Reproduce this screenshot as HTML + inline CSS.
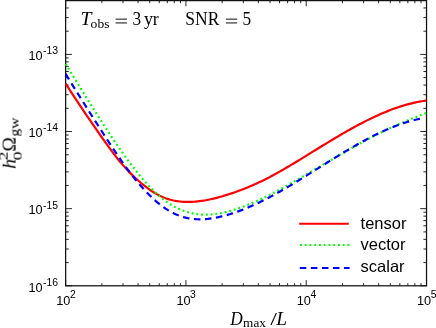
<!DOCTYPE html>
<html><head><meta charset="utf-8"><style>
html,body{margin:0;padding:0;background:#fff;}
svg{display:block;}
text{filter:url(#idf);}
text{fill:#000;}
.tl{font-family:"Liberation Sans",sans-serif;font-size:12.7px;}
.sup{font-family:"Liberation Sans",sans-serif;font-size:10.4px;}
.lg{font-family:"Liberation Sans",sans-serif;font-size:16.5px;}
.m{font-family:"Liberation Serif",serif;font-size:18.2px;}
.mi{font-family:"Liberation Serif",serif;font-size:18.2px;font-style:italic;}
.ms{font-family:"Liberation Serif",serif;font-size:13.3px;}
</style></head><body>
<svg width="436" height="328" viewBox="0 0 436 328">
<rect x="0" y="0" width="436" height="328" fill="#fff"/>
<defs><filter id="idf" x="-10%" y="-10%" width="120%" height="120%" color-interpolation-filters="sRGB"><feOffset dx="0" dy="0"/></filter><clipPath id="c"><rect x="65.05000000000001" y="0" width="362.07" height="285.78999999999996"/></clipPath></defs>
<g stroke="#000" stroke-width="0.85" fill="none">
<line x1="65.65" y1="285.79" x2="65.65" y2="280.09"/>
<line x1="65.65" y1="0.60" x2="65.65" y2="6.30"/>
<line x1="101.86" y1="285.79" x2="101.86" y2="283.19"/>
<line x1="101.86" y1="0.60" x2="101.86" y2="3.20"/>
<line x1="123.04" y1="285.79" x2="123.04" y2="283.19"/>
<line x1="123.04" y1="0.60" x2="123.04" y2="3.20"/>
<line x1="138.07" y1="285.79" x2="138.07" y2="283.19"/>
<line x1="138.07" y1="0.60" x2="138.07" y2="3.20"/>
<line x1="149.73" y1="285.79" x2="149.73" y2="283.19"/>
<line x1="149.73" y1="0.60" x2="149.73" y2="3.20"/>
<line x1="159.25" y1="285.79" x2="159.25" y2="283.19"/>
<line x1="159.25" y1="0.60" x2="159.25" y2="3.20"/>
<line x1="167.31" y1="285.79" x2="167.31" y2="283.19"/>
<line x1="167.31" y1="0.60" x2="167.31" y2="3.20"/>
<line x1="174.28" y1="285.79" x2="174.28" y2="283.19"/>
<line x1="174.28" y1="0.60" x2="174.28" y2="3.20"/>
<line x1="180.44" y1="285.79" x2="180.44" y2="283.19"/>
<line x1="180.44" y1="0.60" x2="180.44" y2="3.20"/>
<line x1="185.94" y1="285.79" x2="185.94" y2="280.09"/>
<line x1="185.94" y1="0.60" x2="185.94" y2="6.30"/>
<line x1="222.15" y1="285.79" x2="222.15" y2="283.19"/>
<line x1="222.15" y1="0.60" x2="222.15" y2="3.20"/>
<line x1="243.33" y1="285.79" x2="243.33" y2="283.19"/>
<line x1="243.33" y1="0.60" x2="243.33" y2="3.20"/>
<line x1="258.36" y1="285.79" x2="258.36" y2="283.19"/>
<line x1="258.36" y1="0.60" x2="258.36" y2="3.20"/>
<line x1="270.02" y1="285.79" x2="270.02" y2="283.19"/>
<line x1="270.02" y1="0.60" x2="270.02" y2="3.20"/>
<line x1="279.54" y1="285.79" x2="279.54" y2="283.19"/>
<line x1="279.54" y1="0.60" x2="279.54" y2="3.20"/>
<line x1="287.60" y1="285.79" x2="287.60" y2="283.19"/>
<line x1="287.60" y1="0.60" x2="287.60" y2="3.20"/>
<line x1="294.57" y1="285.79" x2="294.57" y2="283.19"/>
<line x1="294.57" y1="0.60" x2="294.57" y2="3.20"/>
<line x1="300.73" y1="285.79" x2="300.73" y2="283.19"/>
<line x1="300.73" y1="0.60" x2="300.73" y2="3.20"/>
<line x1="306.23" y1="285.79" x2="306.23" y2="280.09"/>
<line x1="306.23" y1="0.60" x2="306.23" y2="6.30"/>
<line x1="342.44" y1="285.79" x2="342.44" y2="283.19"/>
<line x1="342.44" y1="0.60" x2="342.44" y2="3.20"/>
<line x1="363.62" y1="285.79" x2="363.62" y2="283.19"/>
<line x1="363.62" y1="0.60" x2="363.62" y2="3.20"/>
<line x1="378.65" y1="285.79" x2="378.65" y2="283.19"/>
<line x1="378.65" y1="0.60" x2="378.65" y2="3.20"/>
<line x1="390.31" y1="285.79" x2="390.31" y2="283.19"/>
<line x1="390.31" y1="0.60" x2="390.31" y2="3.20"/>
<line x1="399.83" y1="285.79" x2="399.83" y2="283.19"/>
<line x1="399.83" y1="0.60" x2="399.83" y2="3.20"/>
<line x1="407.89" y1="285.79" x2="407.89" y2="283.19"/>
<line x1="407.89" y1="0.60" x2="407.89" y2="3.20"/>
<line x1="414.86" y1="285.79" x2="414.86" y2="283.19"/>
<line x1="414.86" y1="0.60" x2="414.86" y2="3.20"/>
<line x1="421.02" y1="285.79" x2="421.02" y2="283.19"/>
<line x1="421.02" y1="0.60" x2="421.02" y2="3.20"/>
<line x1="426.52" y1="285.79" x2="426.52" y2="280.09"/>
<line x1="426.52" y1="0.60" x2="426.52" y2="6.30"/>
<line x1="65.65" y1="285.79" x2="71.95" y2="285.79"/>
<line x1="426.52" y1="285.79" x2="420.22" y2="285.79"/>
<line x1="65.65" y1="262.57" x2="68.75" y2="262.57"/>
<line x1="426.52" y1="262.57" x2="423.42" y2="262.57"/>
<line x1="65.65" y1="248.99" x2="68.75" y2="248.99"/>
<line x1="426.52" y1="248.99" x2="423.42" y2="248.99"/>
<line x1="65.65" y1="239.35" x2="68.75" y2="239.35"/>
<line x1="426.52" y1="239.35" x2="423.42" y2="239.35"/>
<line x1="65.65" y1="231.88" x2="68.75" y2="231.88"/>
<line x1="426.52" y1="231.88" x2="423.42" y2="231.88"/>
<line x1="65.65" y1="225.77" x2="68.75" y2="225.77"/>
<line x1="426.52" y1="225.77" x2="423.42" y2="225.77"/>
<line x1="65.65" y1="220.61" x2="68.75" y2="220.61"/>
<line x1="426.52" y1="220.61" x2="423.42" y2="220.61"/>
<line x1="65.65" y1="216.13" x2="68.75" y2="216.13"/>
<line x1="426.52" y1="216.13" x2="423.42" y2="216.13"/>
<line x1="65.65" y1="212.19" x2="68.75" y2="212.19"/>
<line x1="426.52" y1="212.19" x2="423.42" y2="212.19"/>
<line x1="65.65" y1="208.66" x2="71.95" y2="208.66"/>
<line x1="426.52" y1="208.66" x2="420.22" y2="208.66"/>
<line x1="65.65" y1="185.44" x2="68.75" y2="185.44"/>
<line x1="426.52" y1="185.44" x2="423.42" y2="185.44"/>
<line x1="65.65" y1="171.86" x2="68.75" y2="171.86"/>
<line x1="426.52" y1="171.86" x2="423.42" y2="171.86"/>
<line x1="65.65" y1="162.22" x2="68.75" y2="162.22"/>
<line x1="426.52" y1="162.22" x2="423.42" y2="162.22"/>
<line x1="65.65" y1="154.75" x2="68.75" y2="154.75"/>
<line x1="426.52" y1="154.75" x2="423.42" y2="154.75"/>
<line x1="65.65" y1="148.64" x2="68.75" y2="148.64"/>
<line x1="426.52" y1="148.64" x2="423.42" y2="148.64"/>
<line x1="65.65" y1="143.48" x2="68.75" y2="143.48"/>
<line x1="426.52" y1="143.48" x2="423.42" y2="143.48"/>
<line x1="65.65" y1="139.00" x2="68.75" y2="139.00"/>
<line x1="426.52" y1="139.00" x2="423.42" y2="139.00"/>
<line x1="65.65" y1="135.06" x2="68.75" y2="135.06"/>
<line x1="426.52" y1="135.06" x2="423.42" y2="135.06"/>
<line x1="65.65" y1="131.53" x2="71.95" y2="131.53"/>
<line x1="426.52" y1="131.53" x2="420.22" y2="131.53"/>
<line x1="65.65" y1="108.31" x2="68.75" y2="108.31"/>
<line x1="426.52" y1="108.31" x2="423.42" y2="108.31"/>
<line x1="65.65" y1="94.73" x2="68.75" y2="94.73"/>
<line x1="426.52" y1="94.73" x2="423.42" y2="94.73"/>
<line x1="65.65" y1="85.09" x2="68.75" y2="85.09"/>
<line x1="426.52" y1="85.09" x2="423.42" y2="85.09"/>
<line x1="65.65" y1="77.62" x2="68.75" y2="77.62"/>
<line x1="426.52" y1="77.62" x2="423.42" y2="77.62"/>
<line x1="65.65" y1="71.51" x2="68.75" y2="71.51"/>
<line x1="426.52" y1="71.51" x2="423.42" y2="71.51"/>
<line x1="65.65" y1="66.35" x2="68.75" y2="66.35"/>
<line x1="426.52" y1="66.35" x2="423.42" y2="66.35"/>
<line x1="65.65" y1="61.87" x2="68.75" y2="61.87"/>
<line x1="426.52" y1="61.87" x2="423.42" y2="61.87"/>
<line x1="65.65" y1="57.93" x2="68.75" y2="57.93"/>
<line x1="426.52" y1="57.93" x2="423.42" y2="57.93"/>
<line x1="65.65" y1="54.40" x2="71.95" y2="54.40"/>
<line x1="426.52" y1="54.40" x2="420.22" y2="54.40"/>
<line x1="65.65" y1="31.18" x2="68.75" y2="31.18"/>
<line x1="426.52" y1="31.18" x2="423.42" y2="31.18"/>
<line x1="65.65" y1="17.60" x2="68.75" y2="17.60"/>
<line x1="426.52" y1="17.60" x2="423.42" y2="17.60"/>
<line x1="65.65" y1="7.96" x2="68.75" y2="7.96"/>
<line x1="426.52" y1="7.96" x2="423.42" y2="7.96"/>
</g>
<rect x="65.65" y="0.6" width="360.87" height="285.19" fill="none" stroke="#111" stroke-width="1.25"/>
<g clip-path="url(#c)" fill="none" stroke-width="2.2">
<path d="M65.6,83.47 L67.6,86.62 L69.6,89.73 L71.6,92.82 L73.6,95.88 L75.6,98.92 L77.6,101.93 L79.6,104.93 L81.6,107.91 L83.6,110.87 L85.6,113.82 L87.6,116.75 L89.6,119.67 L91.6,122.58 L93.6,125.48 L95.6,128.37 L97.6,131.25 L99.6,134.13 L101.6,137.00 L103.6,139.84 L105.6,142.67 L107.6,145.46 L109.6,148.22 L111.6,150.93 L113.6,153.59 L115.6,156.19 L117.6,158.73 L119.6,161.20 L121.6,163.59 L123.6,165.90 L125.6,168.14 L127.6,170.29 L129.6,172.38 L131.6,174.39 L133.6,176.33 L135.6,178.21 L137.6,180.02 L139.6,181.78 L141.6,183.48 L143.6,185.12 L145.6,186.69 L147.6,188.20 L149.6,189.64 L151.6,191.00 L153.6,192.28 L155.6,193.49 L157.6,194.60 L159.6,195.63 L161.6,196.57 L163.6,197.42 L165.6,198.19 L167.6,198.88 L169.6,199.49 L171.6,200.03 L173.6,200.49 L175.6,200.88 L177.6,201.21 L179.6,201.47 L181.6,201.67 L183.6,201.81 L185.6,201.89 L187.6,201.92 L189.6,201.91 L191.6,201.84 L193.6,201.73 L195.6,201.57 L197.6,201.38 L199.6,201.15 L201.6,200.88 L203.6,200.57 L205.6,200.24 L207.6,199.86 L209.6,199.46 L211.6,199.03 L213.6,198.57 L215.6,198.08 L217.6,197.57 L219.6,197.03 L221.6,196.47 L223.6,195.88 L225.6,195.28 L227.6,194.66 L229.6,194.02 L231.6,193.36 L233.6,192.68 L235.6,191.98 L237.6,191.27 L239.6,190.53 L241.6,189.78 L243.6,189.00 L245.6,188.21 L247.6,187.40 L249.6,186.57 L251.6,185.71 L253.6,184.84 L255.6,183.95 L257.6,183.03 L259.6,182.10 L261.6,181.14 L263.6,180.16 L265.6,179.17 L267.6,178.15 L269.6,177.11 L271.6,176.05 L273.6,174.98 L275.6,173.89 L277.6,172.78 L279.6,171.66 L281.6,170.52 L283.6,169.37 L285.6,168.21 L287.6,167.04 L289.6,165.86 L291.6,164.67 L293.6,163.47 L295.6,162.26 L297.6,161.04 L299.6,159.82 L301.6,158.60 L303.6,157.37 L305.6,156.13 L307.6,154.90 L309.6,153.66 L311.6,152.43 L313.6,151.19 L315.6,149.96 L317.6,148.73 L319.6,147.49 L321.6,146.27 L323.6,145.04 L325.6,143.82 L327.6,142.61 L329.6,141.40 L331.6,140.19 L333.6,138.99 L335.6,137.80 L337.6,136.61 L339.6,135.44 L341.6,134.27 L343.6,133.11 L345.6,131.96 L347.6,130.82 L349.6,129.70 L351.6,128.58 L353.6,127.48 L355.6,126.38 L357.6,125.31 L359.6,124.24 L361.6,123.19 L363.6,122.16 L365.6,121.14 L367.6,120.13 L369.6,119.15 L371.6,118.18 L373.6,117.23 L375.6,116.29 L377.6,115.38 L379.6,114.49 L381.6,113.61 L383.6,112.76 L385.6,111.93 L387.6,111.12 L389.6,110.33 L391.6,109.57 L393.6,108.83 L395.6,108.11 L397.6,107.42 L399.6,106.75 L401.6,106.11 L403.6,105.50 L405.6,104.92 L407.6,104.36 L409.6,103.83 L411.6,103.33 L413.6,102.86 L415.6,102.42 L417.6,102.01 L419.6,101.63 L421.6,101.28 L423.6,100.97 L425.6,100.68 L426.4,100.58" stroke="#ff0000"/>
<path d="M65.6,63.92 L67.6,67.17 L69.6,70.42 L71.6,73.67 L73.6,76.92 L75.6,80.17 L77.6,83.42 L79.6,86.66 L81.6,89.90 L83.6,93.13 L85.6,96.35 L87.6,99.56 L89.6,102.76 L91.6,105.94 L93.6,109.12 L95.6,112.28 L97.6,115.42 L99.6,118.55 L101.6,121.66 L103.6,124.75 L105.6,127.82 L107.6,130.87 L109.6,133.89 L111.6,136.89 L113.6,139.86 L115.6,142.81 L117.6,145.73 L119.6,148.62 L121.6,151.47 L123.6,154.30 L125.6,157.08 L127.6,159.82 L129.6,162.53 L131.6,165.18 L133.6,167.79 L135.6,170.35 L137.6,172.86 L139.6,175.31 L141.6,177.70 L143.6,180.03 L145.6,182.30 L147.6,184.50 L149.6,186.64 L151.6,188.71 L153.6,190.70 L155.6,192.62 L157.6,194.46 L159.6,196.22 L161.6,197.90 L163.6,199.50 L165.6,201.02 L167.6,202.44 L169.6,203.78 L171.6,205.04 L173.6,206.21 L175.6,207.29 L177.6,208.30 L179.6,209.22 L181.6,210.07 L183.6,210.84 L185.6,211.53 L187.6,212.15 L189.6,212.70 L191.6,213.18 L193.6,213.59 L195.6,213.93 L197.6,214.20 L199.6,214.41 L201.6,214.56 L203.6,214.65 L205.6,214.68 L207.6,214.65 L209.6,214.57 L211.6,214.43 L213.6,214.24 L215.6,214.01 L217.6,213.72 L219.6,213.39 L221.6,213.02 L223.6,212.60 L225.6,212.15 L227.6,211.65 L229.6,211.12 L231.6,210.55 L233.6,209.95 L235.6,209.32 L237.6,208.66 L239.6,207.97 L241.6,207.26 L243.6,206.52 L245.6,205.75 L247.6,204.96 L249.6,204.15 L251.6,203.32 L253.6,202.46 L255.6,201.58 L257.6,200.68 L259.6,199.76 L261.6,198.82 L263.6,197.87 L265.6,196.89 L267.6,195.90 L269.6,194.89 L271.6,193.86 L273.6,192.82 L275.6,191.76 L277.6,190.69 L279.6,189.61 L281.6,188.52 L283.6,187.41 L285.6,186.30 L287.6,185.18 L289.6,184.05 L291.6,182.91 L293.6,181.77 L295.6,180.63 L297.6,179.48 L299.6,178.33 L301.6,177.18 L303.6,176.02 L305.6,174.86 L307.6,173.70 L309.6,172.54 L311.6,171.37 L313.6,170.21 L315.6,169.04 L317.6,167.87 L319.6,166.70 L321.6,165.53 L323.6,164.36 L325.6,163.19 L327.6,162.02 L329.6,160.85 L331.6,159.69 L333.6,158.52 L335.6,157.36 L337.6,156.19 L339.6,155.03 L341.6,153.88 L343.6,152.73 L345.6,151.58 L347.6,150.44 L349.6,149.30 L351.6,148.17 L353.6,147.04 L355.6,145.92 L357.6,144.81 L359.6,143.71 L361.6,142.61 L363.6,141.52 L365.6,140.44 L367.6,139.37 L369.6,138.31 L371.6,137.26 L373.6,136.22 L375.6,135.19 L377.6,134.18 L379.6,133.17 L381.6,132.18 L383.6,131.20 L385.6,130.23 L387.6,129.28 L389.6,128.34 L391.6,127.41 L393.6,126.50 L395.6,125.61 L397.6,124.72 L399.6,123.85 L401.6,122.99 L403.6,122.14 L405.6,121.30 L407.6,120.46 L409.6,119.63 L411.6,118.81 L413.6,118.00 L415.6,117.18 L417.6,116.37 L419.6,115.57 L421.6,114.76 L423.6,113.95 L425.6,113.15 L426.4,112.82" stroke="#00ff00" stroke-dasharray="1.9 2.85"/>
<path d="M65.6,73.88 L67.6,77.12 L69.6,80.36 L71.6,83.58 L73.6,86.80 L75.6,90.01 L77.6,93.21 L79.6,96.40 L81.6,99.58 L83.6,102.76 L85.6,105.92 L87.6,109.08 L89.6,112.24 L91.6,115.38 L93.6,118.52 L95.6,121.64 L97.6,124.77 L99.6,127.88 L101.6,130.98 L103.6,134.08 L105.6,137.17 L107.6,140.24 L109.6,143.30 L111.6,146.33 L113.6,149.33 L115.6,152.31 L117.6,155.26 L119.6,158.17 L121.6,161.04 L123.6,163.86 L125.6,166.64 L127.6,169.37 L129.6,172.05 L131.6,174.67 L133.6,177.23 L135.6,179.73 L137.6,182.15 L139.6,184.52 L141.6,186.81 L143.6,189.03 L145.6,191.18 L147.6,193.26 L149.6,195.27 L151.6,197.20 L153.6,199.06 L155.6,200.84 L157.6,202.54 L159.6,204.17 L161.6,205.71 L163.6,207.17 L165.6,208.55 L167.6,209.85 L169.6,211.06 L171.6,212.18 L173.6,213.22 L175.6,214.17 L177.6,215.03 L179.6,215.80 L181.6,216.49 L183.6,217.10 L185.6,217.62 L187.6,218.07 L189.6,218.45 L191.6,218.75 L193.6,218.99 L195.6,219.15 L197.6,219.26 L199.6,219.30 L201.6,219.28 L203.6,219.20 L205.6,219.08 L207.6,218.90 L209.6,218.67 L211.6,218.40 L213.6,218.08 L215.6,217.72 L217.6,217.32 L219.6,216.89 L221.6,216.42 L223.6,215.93 L225.6,215.40 L227.6,214.84 L229.6,214.25 L231.6,213.63 L233.6,212.98 L235.6,212.30 L237.6,211.60 L239.6,210.87 L241.6,210.11 L243.6,209.33 L245.6,208.53 L247.6,207.70 L249.6,206.84 L251.6,205.97 L253.6,205.07 L255.6,204.15 L257.6,203.21 L259.6,202.25 L261.6,201.26 L263.6,200.27 L265.6,199.25 L267.6,198.21 L269.6,197.16 L271.6,196.10 L273.6,195.01 L275.6,193.92 L277.6,192.80 L279.6,191.68 L281.6,190.54 L283.6,189.39 L285.6,188.23 L287.6,187.06 L289.6,185.87 L291.6,184.68 L293.6,183.48 L295.6,182.27 L297.6,181.05 L299.6,179.83 L301.6,178.60 L303.6,177.36 L305.6,176.12 L307.6,174.88 L309.6,173.63 L311.6,172.38 L313.6,171.13 L315.6,169.87 L317.6,168.61 L319.6,167.36 L321.6,166.10 L323.6,164.85 L325.6,163.59 L327.6,162.34 L329.6,161.10 L331.6,159.85 L333.6,158.61 L335.6,157.38 L337.6,156.15 L339.6,154.93 L341.6,153.71 L343.6,152.50 L345.6,151.30 L347.6,150.11 L349.6,148.93 L351.6,147.76 L353.6,146.60 L355.6,145.46 L357.6,144.32 L359.6,143.20 L361.6,142.09 L363.6,140.99 L365.6,139.91 L367.6,138.85 L369.6,137.80 L371.6,136.77 L373.6,135.76 L375.6,134.76 L377.6,133.78 L379.6,132.83 L381.6,131.89 L383.6,130.98 L385.6,130.08 L387.6,129.21 L389.6,128.36 L391.6,127.53 L393.6,126.73 L395.6,125.96 L397.6,125.21 L399.6,124.48 L401.6,123.78 L403.6,123.11 L405.6,122.47 L407.6,121.86 L409.6,121.27 L411.6,120.72 L413.6,120.20 L415.6,119.70 L417.6,119.24 L419.6,118.82 L421.5,118.44" stroke="#0000ff" stroke-dasharray="6.5 4.57"/>
</g>
<g>
<text x="28.5" y="59.8" class="tl">10</text><text x="43.1" y="53.9" class="sup">-13</text>
<text x="28.5" y="137.1" class="tl">10</text><text x="43.1" y="131.2" class="sup">-14</text>
<text x="28.5" y="214.4" class="tl">10</text><text x="43.1" y="208.5" class="sup">-15</text>
<text x="28.5" y="291.7" class="tl">10</text><text x="43.1" y="285.8" class="sup">-16</text>
<text x="56.2" y="304.7" class="tl">10</text><text x="69.9" y="298.2" class="sup">2</text>
<text x="176.4" y="304.7" class="tl">10</text><text x="190.1" y="298.2" class="sup">3</text>
<text x="296.7" y="304.7" class="tl">10</text><text x="310.4" y="298.2" class="sup">4</text>
<text x="417.0" y="304.7" class="tl">10</text><text x="430.7" y="298.2" class="sup">5</text>
</g>
<g fill="none" stroke-width="2">
<line x1="299.2" y1="223.8" x2="348.8" y2="223.8" stroke="#ff0000"/>
<line x1="299.95" y1="245" x2="349.5" y2="245" stroke="#00ff00" stroke-dasharray="1.9 2.85"/>
<line x1="299.8" y1="267.9" x2="349.6" y2="267.9" stroke="#0000ff" stroke-dasharray="6.5 4.57"/>
</g>
<text x="360.6" y="228.6" class="lg">tensor</text>
<text x="360.6" y="250.1" class="lg">vector</text>
<text x="360.6" y="271.5" class="lg">scalar</text>

<text x="80.6" y="25.4" class="mi" textLength="11" lengthAdjust="spacingAndGlyphs">T</text>
<text x="90.6" y="28.3" class="ms" textLength="18.9" lengthAdjust="spacingAndGlyphs">obs</text>
<path d="M115.6,19.15H126.9M115.6,22.95H126.9M225.9,19.15H237.2M225.9,22.95H237.2" stroke="#000" stroke-width="0.95" fill="none"/>
<text x="132.6" y="25.4" class="m" textLength="8.65" lengthAdjust="spacingAndGlyphs">3</text>
<text x="143.9" y="25.4" class="m" textLength="14.9" lengthAdjust="spacingAndGlyphs">yr</text>
<text x="185.3" y="25.4" class="m" textLength="34" lengthAdjust="spacingAndGlyphs">SNR</text>
<text x="242.6" y="25.4" class="m" textLength="8.65" lengthAdjust="spacingAndGlyphs">5</text>

<text x="230.2" y="325" class="mi" textLength="12.5" lengthAdjust="spacingAndGlyphs">D</text>
<text x="243.1" y="327.3" class="ms" textLength="22.8" lengthAdjust="spacingAndGlyphs">max</text>
<text x="271.2" y="325" style="font-family:'Liberation Sans',sans-serif;font-size:15.6px;font-style:italic">/</text>
<text x="276.2" y="325" class="mi" textLength="10.8" lengthAdjust="spacingAndGlyphs">L</text>

<g transform="translate(15.6,168.8) rotate(-90)">
<text x="0" y="0" class="mi" textLength="9.8" lengthAdjust="spacingAndGlyphs">h</text>
<text x="8.6" y="-7.6" class="ms" style="font-size:12.6px" textLength="8.8" lengthAdjust="spacingAndGlyphs">2</text>
<text x="8.6" y="5.6" class="ms" style="font-size:12.6px" textLength="8.8" lengthAdjust="spacingAndGlyphs">0</text>
<text x="17.2" y="0" class="m" style="font-size:19.2px" textLength="14.5" lengthAdjust="spacingAndGlyphs">Ω</text>
<text x="32.2" y="2.8" class="ms" textLength="19.2" lengthAdjust="spacingAndGlyphs">gw</text>
</g>
</svg>
</body></html>
